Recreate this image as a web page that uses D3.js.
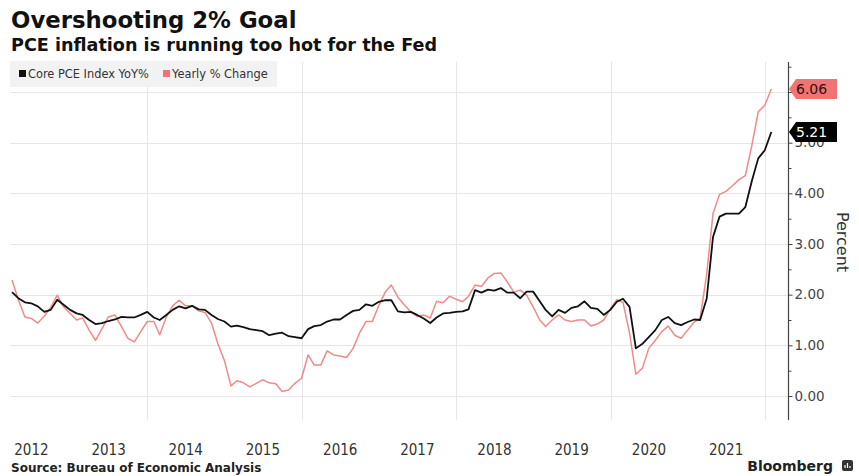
<!DOCTYPE html>
<html>
<head>
<meta charset="utf-8">
<script src="https://cdn.jsdelivr.net/npm/d3@7"></script>
<style>
    html, body { margin: 0; padding: 0; background: #fff; }
    svg { display: block; font-family: 'DejaVu Sans', sans-serif; }
</style>
</head>
<body>
<svg class="chart" width="859" height="476"></svg>
<script>
// monthly values, first one is March 2012, last one January 2022
const firstMonth = '2012-03';

const coreYoY = [
    2.05, 1.93, 1.85, 1.83, 1.77, 1.66, 1.70, 1.90, 1.80, 1.70,             // 2012 (mar-dec)
    1.63, 1.60, 1.50, 1.42, 1.44, 1.48, 1.51, 1.56, 1.55, 1.55, 1.60, 1.66, // 2013
    1.55, 1.50, 1.60, 1.70, 1.77, 1.73, 1.78, 1.71, 1.70, 1.60, 1.52, 1.47, // 2014
    1.37, 1.39, 1.36, 1.32, 1.30, 1.28, 1.20, 1.23, 1.25, 1.18, 1.16, 1.14, // 2015
    1.32, 1.38, 1.40, 1.47, 1.51, 1.51, 1.60, 1.68, 1.70, 1.81, 1.78, 1.86, // 2016
    1.89, 1.89, 1.67, 1.65, 1.66, 1.60, 1.53, 1.44, 1.55, 1.63, 1.64, 1.66, // 2017
    1.67, 1.71, 2.09, 2.04, 2.10, 2.08, 2.13, 2.04, 2.04, 1.93, 2.06, 2.06, // 2018
    1.87, 1.70, 1.57, 1.70, 1.64, 1.74, 1.77, 1.87, 1.74, 1.72, 1.60, 1.70, // 2019
    1.86, 1.92, 1.76, 0.94, 1.03, 1.16, 1.30, 1.50, 1.56, 1.44, 1.40, 1.46, // 2020
    1.51, 1.50, 1.92, 3.14, 3.54, 3.60, 3.60, 3.60, 3.73, 4.25, 4.69, 4.85, // 2021
    5.21                                                                    // 2022 (jan)
];

const yearlyChange = [
    2.29, 1.90, 1.56, 1.53, 1.44, 1.58, 1.75, 1.99, 1.76, 1.63,             // 2012 (mar-dec)
    1.50, 1.54, 1.30, 1.10, 1.33, 1.56, 1.60, 1.37, 1.14, 1.07, 1.27, 1.47, // 2013
    1.47, 1.21, 1.56, 1.78, 1.89, 1.78, 1.78, 1.68, 1.65, 1.44, 1.03, 0.70, // 2014
    0.20, 0.30, 0.26, 0.18, 0.25, 0.32, 0.26, 0.24, 0.09, 0.12, 0.25, 0.35, // 2015
    0.81, 0.61, 0.61, 0.89, 0.81, 0.79, 0.76, 0.94, 1.24, 1.47, 1.47, 1.79, // 2016
    2.06, 2.19, 1.95, 1.80, 1.66, 1.57, 1.60, 1.54, 1.87, 1.84, 1.97, 1.91, // 2017
    1.86, 1.97, 2.19, 2.16, 2.33, 2.42, 2.43, 2.25, 2.05, 2.09, 1.99, 1.76, // 2018
    1.50, 1.37, 1.50, 1.60, 1.50, 1.47, 1.50, 1.50, 1.38, 1.42, 1.50, 1.72, // 2019
    1.90, 1.85, 1.24, 0.43, 0.55, 0.94, 1.10, 1.27, 1.38, 1.20, 1.14, 1.30, // 2020
    1.46, 1.53, 2.40, 3.60, 3.98, 4.04, 4.15, 4.27, 4.35, 4.95, 5.61, 5.74, // 2021
    6.06                                                                    // 2022 (jan)
];

const seriesNames = ['Core PCE Index YoY%', 'Yearly % Change'];
const yearLabels = [2012, 2013, 2014, 2015, 2016, 2017, 2018, 2019, 2020, 2021];
const gridYears = [2014, 2016, 2018, 2020, 2022];
const yTicks = [0, 1, 2, 3, 4, 5, 6];
const yMinorTicks = [0.5, 1.5, 2.5, 3.5, 4.5, 5.5, 6.5];

const svg = d3.select('.chart');

const parseMonth = d3.timeParse('%Y-%m');
const start = parseMonth(firstMonth);
// each month sits on its last day
const monthEnd = i => d3.timeDay.offset(d3.timeMonth.offset(start, i + 1), -1);

const core = coreYoY.map((v, i) => ({ date: monthEnd(i), value: v }));
const yearly = yearlyChange.map((v, i) => ({ date: monthEnd(i), value: v }));

const plotLeft = 10;
const axisX = 788;
const plotTop = 62;
const plotBottom = 420;

const xScale = d3.scaleTime()
    .domain([new Date(2012, 0, 1), new Date(2022, 0, 1)])
    .range([-7, 765]);

const yScale = d3.scaleLinear()
    .domain([0, 6])
    .range([396, 92]);

const colors = { core: '#111111', yearly: '#f08a8a', yearlyTag: '#f07474' };

// titles
svg.append('text')
    .attr('x', 11)
    .attr('y', 28)
    .style('font-size', '22.8px')
    .style('font-weight', 'bold')
    .attr('fill', '#111')
    .text('Overshooting 2% Goal');

svg.append('text')
    .attr('x', 11)
    .attr('y', 51)
    .style('font-size', '17.6px')
    .style('font-weight', 'bold')
    .attr('fill', '#111')
    .text('PCE inflation is running too hot for the Fed');

// grid
const grid = svg.append('g').attr('stroke', '#e6e6e6').attr('stroke-width', 1);

grid.selectAll('.hgrid')
    .data(yTicks)
    .join('line')
    .attr('class', 'hgrid')
    .attr('x1', plotLeft)
    .attr('x2', axisX)
    .attr('y1', d => Math.round(yScale(d)) + 0.5)
    .attr('y2', d => Math.round(yScale(d)) + 0.5);

grid.selectAll('.vgrid')
    .data(gridYears)
    .join('line')
    .attr('class', 'vgrid')
    .attr('x1', d => Math.round(xScale(new Date(d, 0, 1))) + 0.5)
    .attr('x2', d => Math.round(xScale(new Date(d, 0, 1))) + 0.5)
    .attr('y1', plotTop)
    .attr('y2', plotBottom);

// legend
const legend = svg.append('g');

legend.append('rect')
    .attr('x', 10)
    .attr('y', 61)
    .attr('width', 267)
    .attr('height', 26)
    .attr('fill', '#f2f2f2');

const legendX = [19, 163];
const legendColors = [colors.core, colors.yearlyTag];

legend.selectAll('.key')
    .data(seriesNames)
    .join('rect')
    .attr('class', 'key')
    .attr('x', (d, i) => legendX[i])
    .attr('y', 70)
    .attr('width', 7)
    .attr('height', 7)
    .attr('fill', (d, i) => legendColors[i]);

legend.selectAll('.label')
    .data(seriesNames)
    .join('text')
    .attr('class', 'label')
    .attr('x', (d, i) => legendX[i] + 9)
    .attr('y', 78)
    .style('font-size', '11.4px')
    .attr('fill', '#333')
    .text(d => d);

// lines
const line = d3.line()
    .x(d => xScale(d.date))
    .y(d => yScale(d.value));

svg.append('path')
    .datum(yearly)
    .attr('fill', 'none')
    .attr('stroke', colors.yearly)
    .attr('stroke-width', 1.5)
    .attr('stroke-linejoin', 'round')
    .attr('d', line);

svg.append('path')
    .datum(core)
    .attr('fill', 'none')
    .attr('stroke', colors.core)
    .attr('stroke-width', 1.8)
    .attr('stroke-linejoin', 'round')
    .attr('d', line);

// right axis
svg.append('line')
    .attr('x1', axisX + 0.5)
    .attr('x2', axisX + 0.5)
    .attr('y1', plotTop)
    .attr('y2', plotBottom)
    .attr('stroke', '#444')
    .attr('stroke-width', 1.2);

// the 6.00 label sits fully under the last value tag, so only its tick is drawn
const yAxis = svg.append('g')
    .attr('transform', `translate(${axisX + 0.5}, 0)`)
    .call(d3.axisRight(yScale)
        .tickValues(yTicks)
        .tickSize(4)
        .tickPadding(2)
        .tickFormat(d => d === 6 ? '' : d3.format('.2f')(d)));

yAxis.select('.domain').remove();
yAxis.selectAll('line').attr('stroke', '#444');
yAxis.selectAll('text')
    .style('font-family', 'DejaVu Sans, sans-serif')
    .style('font-size', '13.5px')
    .attr('fill', '#444');

const yMinor = svg.append('g')
    .attr('transform', `translate(${axisX + 0.5}, 0)`)
    .call(d3.axisRight(yScale)
        .tickValues(yMinorTicks)
        .tickSize(3)
        .tickFormat(''));

yMinor.select('.domain').remove();
yMinor.selectAll('line').attr('stroke', '#444');

svg.append('text')
    .attr('transform', 'translate(837, 242) rotate(90)')
    .attr('text-anchor', 'middle')
    .style('font-size', '16px')
    .attr('fill', '#333')
    .text('Percent');

// last value tags
const tags = [
    { value: yearlyChange[yearlyChange.length - 1], fill: colors.yearlyTag, text: '#3a0a0a' },
    { value: coreYoY[coreYoY.length - 1], fill: '#000', text: '#fff' }
];

const tag = svg.selectAll('.tag')
    .data(tags)
    .join('g')
    .attr('class', 'tag')
    .attr('transform', d => `translate(${axisX + 1}, ${yScale(d.value)})`);

tag.append('path')
    .attr('d', 'M0,0 L7,-10 L48,-10 L48,10 L7,10 Z')
    .attr('fill', d => d.fill);

tag.append('text')
    .attr('x', 7)
    .attr('y', 5)
    .style('font-size', '14px')
    .attr('fill', d => d.text)
    .text(d => d3.format('.2f')(d.value));

// x labels in the middle of each year
svg.append('g')
    .selectAll('text')
    .data(yearLabels)
    .join('text')
    .attr('x', d => xScale(new Date(d, 6, 1)))
    .attr('y', 455)
    .attr('text-anchor', 'middle')
    .style('font-family', '"Liberation Sans Narrow", "DejaVu Sans Condensed", sans-serif')
    .style('font-size', '15px')
    .attr('fill', '#333')
    .text(d => d);

// footer
svg.append('text')
    .attr('x', 11)
    .attr('y', 472)
    .style('font-size', '12px')
    .style('font-weight', 'bold')
    .attr('fill', '#222')
    .text('Source: Bureau of Economic Analysis');

svg.append('text')
    .attr('x', 833)
    .attr('y', 471)
    .attr('text-anchor', 'end')
    .style('font-size', '14px')
    .style('font-weight', 'bold')
    .attr('fill', '#222')
    .text('Bloomberg');

const logo = svg.append('g').attr('transform', 'translate(842, 460)');
logo.append('rect')
    .attr('width', 11)
    .attr('height', 11)
    .attr('rx', 2)
    .attr('fill', '#333');
logo.append('path')
    .attr('d', 'M3,8 V5 M5.5,8 V3 M8,8 V6')
    .attr('stroke', '#fff')
    .attr('stroke-width', 1.2);
</script>
</body>
</html>
